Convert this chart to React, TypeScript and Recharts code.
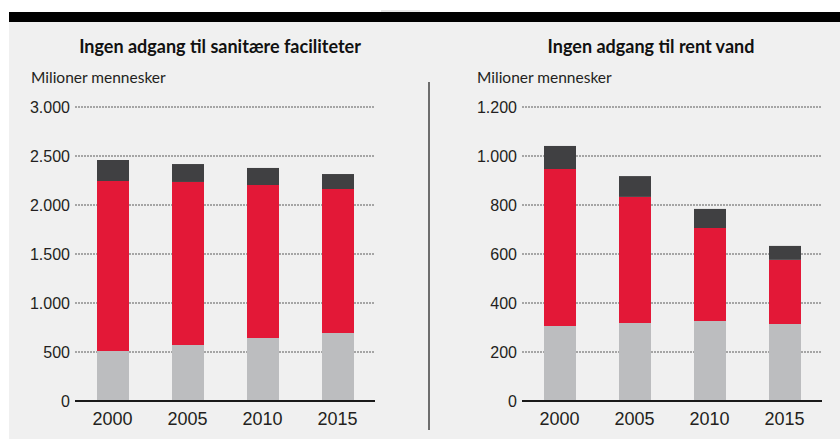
import { Bar, BarChart, CartesianGrid, XAxis, YAxis } from "recharts";

const years = ["2000", "2005", "2010", "2015"];

// Ingen adgang til sanitære faciliteter (mio. mennesker)
const sanitationLower = [510, 571, 643, 694];
const sanitationMiddle = [1735, 1664, 1561, 1469];
const sanitationUpper = [214, 183, 174, 153];
const sanitationTicks = [0, 500, 1000, 1500, 2000, 2500, 3000];

// Ingen adgang til rent vand (mio. mennesker)
const waterLower = [306, 318, 327, 314];
const waterMiddle = [641, 515, 379, 262];
const waterUpper = [94, 85, 78, 57];
const waterTicks = [0, 200, 400, 600, 800, 1000, 1200];

const GREY = "#bcbdbf";
const RED = "#e31837";
const DARK = "#404042";
const BG = "#f0f0f0";
const TEXT = "#231f20";

const fmt = (v: number) => String(v).replace(/\B(?=(\d{3})+(?!\d))/g, ".");

function buildRows(lower: number[], middle: number[], upper: number[]) {
  return years.map((year, i) => ({
    year,
    lower: lower[i],
    middle: middle[i],
    upper: upper[i],
  }));
}

interface StackProps {
  data: ReturnType<typeof buildRows>;
  ticks: number[];
  width: number;
  axisWidth: number;
  rightGap: number;
}

function StackedPanel({ data, ticks, width, axisWidth, rightGap }: StackProps) {
  return (
    <BarChart
      width={width}
      height={439}
      data={data}
      margin={{ top: 107, right: rightGap, left: 0, bottom: 8 }}
      barSize={32}
    >
      <CartesianGrid
        vertical={false}
        stroke="#5a5a5a"
        strokeDasharray="2 1"
        strokeWidth={1}
      />
      <XAxis
        dataKey="year"
        height={30}
        tickLine={false}
        tickSize={0}
        tickMargin={11}
        axisLine={{ stroke: "#1a1a1a", strokeWidth: 2 }}
        tick={{ fill: TEXT, fontSize: 18, fontFamily: "Liberation Sans, Arial, sans-serif" }}
      />
      <YAxis
        width={axisWidth}
        domain={[0, ticks[ticks.length - 1]]}
        ticks={ticks}
        tickFormatter={fmt}
        axisLine={false}
        tickLine={false}
        tickSize={0}
        tickMargin={5}
        interval={0}
        tick={{ fill: TEXT, fontSize: 16, fontFamily: "Liberation Sans, Arial, sans-serif" }}
      />
      <Bar dataKey="lower" stackId="a" fill={GREY} isAnimationActive={false} />
      <Bar dataKey="middle" stackId="a" fill={RED} isAnimationActive={false} />
      <Bar dataKey="upper" stackId="a" fill={DARK} isAnimationActive={false} />
    </BarChart>
  );
}

const titleStyle: React.CSSProperties = {
  position: "absolute",
  top: 35,
  fontFamily: "Lato, sans-serif",
  fontWeight: 700,
  fontSize: 18,
  color: "#111",
  textAlign: "center",
  whiteSpace: "nowrap",
};

const unitStyle: React.CSSProperties = {
  position: "absolute",
  top: 68,
  fontFamily: "Lato, sans-serif",
  fontSize: 15.5,
  color: TEXT,
  whiteSpace: "nowrap",
};

export default function App() {
  return (
    <div
      style={{
        position: "fixed",
        left: 0,
        top: 0,
        width: 840,
        height: 439,
        background: "#fff",
        overflow: "hidden",
      }}
    >
      <div style={{ position: "absolute", left: 9, top: 22, width: 831, height: 417, background: BG }} />
      <div style={{ position: "absolute", left: 9, top: 12, width: 831, height: 10, background: "#000" }} />
      <div style={{ position: "absolute", left: 381, top: 10, width: 39, height: 2, background: "#e6e6e6" }} />
      <div style={{ position: "absolute", left: 428, top: 82, width: 2, height: 348, background: "#6d6d6d" }} />

      <div style={{ ...titleStyle, left: 20, width: 400 }}>Ingen adgang til sanitære faciliteter</div>
      <div style={{ ...titleStyle, left: 451, width: 400 }}>Ingen adgang til rent vand</div>
      <div style={{ ...unitStyle, left: 31 }}>Milioner mennesker</div>
      <div style={{ ...unitStyle, left: 477 }}>Milioner mennesker</div>

      <div style={{ position: "absolute", left: 0, top: 0 }}>
        <StackedPanel
          data={buildRows(sanitationLower, sanitationMiddle, sanitationUpper)}
          ticks={sanitationTicks}
          width={400}
          axisWidth={75}
          rightGap={25}
        />
      </div>
      <div style={{ position: "absolute", left: 420, top: 0 }}>
        <StackedPanel
          data={buildRows(waterLower, waterMiddle, waterUpper)}
          ticks={waterTicks}
          width={420}
          axisWidth={102}
          rightGap={18}
        />
      </div>
    </div>
  );
}
